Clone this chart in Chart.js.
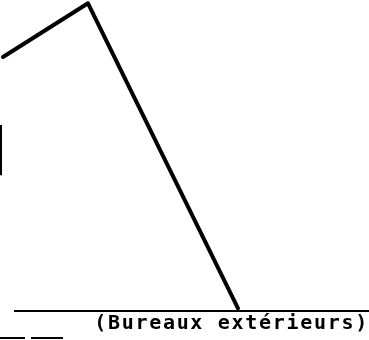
<!DOCTYPE html>
<html>
<head>
<meta charset="utf-8">
<script src="https://cdn.jsdelivr.net/npm/chart.js@4/dist/chart.umd.min.js"></script>
<style>
  html, body { margin: 0; padding: 0; background: #fff; }
  #wrap { width: 369px; height: 340px; }
</style>
</head>
<body>
<div id="wrap"><canvas id="c" width="369" height="340"></canvas></div>
<script>
// Data
const xPositions = [0, 17, 47];
const seriesValues = [84.7, 102.6, 0.9];
const sideMarkX = [-0.4, -0.4];
const sideMarkY = [62, 45.3];
const footMarkX = [-0.6, 4.4, null, 5.6, 12];
const footMarkY = [-9, -9, null, -9, -9];
const axisTitle = '(Bureaux extérieurs)';

const toPoints = (xs, ys) => xs.map((x, i) => (x === null ? { x: null, y: null } : { x: x, y: ys[i] }));

const spacingPlugin = {
  id: 'spacing',
  beforeDraw(chart) { chart.ctx.letterSpacing = '1.7px'; }
};

new Chart(document.getElementById('c'), {
  type: 'line',
  data: {
    datasets: [
      {
        data: toPoints(xPositions, seriesValues),
        borderColor: '#000', borderWidth: 4, pointRadius: 0,
        tension: 0, clip: false, borderCapStyle: 'round', borderJoinStyle: 'round'
      },
      {
        data: toPoints(sideMarkX, sideMarkY),
        borderColor: '#000', borderWidth: 2, pointRadius: 0, clip: false
      },
      {
        data: toPoints(footMarkX, footMarkY),
        borderColor: '#000', borderWidth: 2, pointRadius: 0, clip: false, spanGaps: false
      }
    ]
  },
  options: {
    responsive: false,
    animation: false,
    layout: { padding: { left: 15, right: 0, top: 0, bottom: 0 } },
    plugins: { legend: { display: false }, tooltip: { enabled: false } },
    scales: {
      x: {
        type: 'linear', min: 2.4, max: 73.2,
        grid: { display: false, drawTicks: false },
        border: { display: true, color: '#000', width: 2 },
        ticks: { display: false },
        title: {
          display: true, text: axisTitle, align: 'end', color: '#000',
          font: { family: 'DejaVu Sans Mono', size: 20, weight: 'bold' },
          padding: { top: 1, bottom: 4 }
        }
      },
      y: {
        display: false, min: 0, max: 103.7
      }
    }
  },
  plugins: [spacingPlugin]
});
</script>
</body>
</html>
